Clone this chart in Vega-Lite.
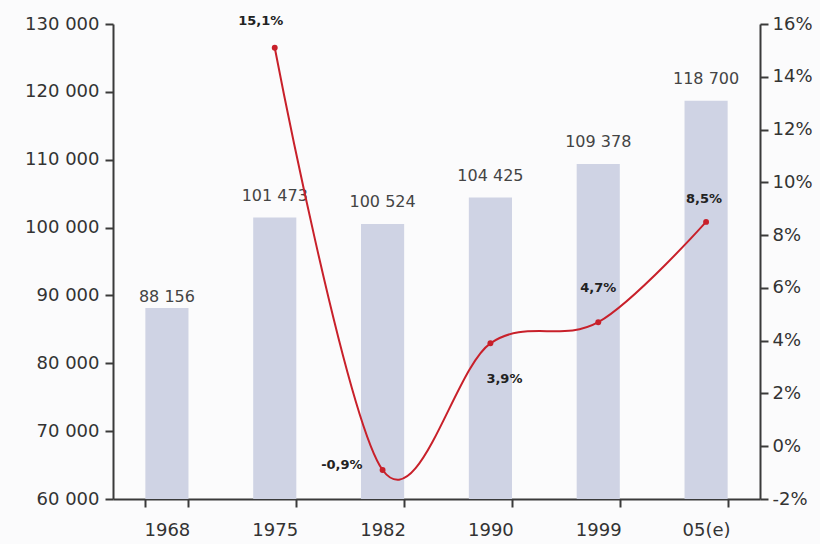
{
  "$schema": "https://vega.github.io/schema/vega-lite/v6.json",
  "autosize": "none",
  "width": 647,
  "height": 475,
  "padding": {"left": 113, "top": 24, "right": 60, "bottom": 45},
  "background": "#fbfbfc",
  "config": {
    "view": {"stroke": null},
    "locale": {"number": {"decimal": ",", "thousands": " ", "grouping": [3], "currency": ["", " €"], "minus": "-"}},
    "axis": {"grid": false, "labelFont": "DejaVu Sans", "labelFontSize": 18, "labelColor": "#333", "domainColor": "#3a3a3a", "domainWidth": 2, "tickColor": "#3a3a3a", "tickWidth": 2, "tickSize": 8}
  },
  "data": {"values": [
    {"year": "1968", "pop": 88156, "growth": null},
    {"year": "1975", "pop": 101473, "growth": 0.151},
    {"year": "1982", "pop": 100524, "growth": -0.009},
    {"year": "1990", "pop": 104425, "growth": 0.039},
    {"year": "1999", "pop": 109378, "growth": 0.047},
    {"year": "05(e)", "pop": 118700, "growth": 0.085}
  ]},
  "encoding": {
    "x": {"field": "year", "type": "ordinal", "sort": null,
      "scale": {"paddingInner": 0.6, "paddingOuter": 0.3},
      "axis": {"title": null, "labelAngle": 0, "tickBand": "extent", "labelPadding": 14}}
  },
  "layer": [
    {
      "encoding": {
        "y": {"field": "pop", "type": "quantitative",
          "scale": {"domain": [60000, 130000], "zero": false, "nice": false},
          "axis": {"title": null, "values": [60000, 70000, 80000, 90000, 100000, 110000, 120000, 130000], "format": ",d", "labelPadding": 6}}
      },
      "layer": [
        {"mark": {"type": "bar", "color": "#cfd3e4"}, "encoding": {"y2": {"datum": 60000}}},
        {"transform": [{"filter": "datum.year != '1968'"}],
         "mark": {"type": "text", "baseline": "bottom", "dy": -14, "font": "DejaVu Sans", "fontSize": 16, "color": "#444"},
         "encoding": {"text": {"field": "pop", "type": "quantitative", "format": ",d"}}},
        {"transform": [{"filter": "datum.year == '1968'"}],
         "mark": {"type": "text", "baseline": "bottom", "dy": -3, "font": "DejaVu Sans", "fontSize": 16, "color": "#444"},
         "encoding": {"text": {"field": "pop", "type": "quantitative", "format": ",d"}}}
      ]
    },
    {
      "transform": [{"filter": "datum.growth != null"}],
      "encoding": {
        "y": {"field": "growth", "type": "quantitative",
          "scale": {"domain": [-0.02, 0.16], "zero": false, "nice": false},
          "axis": {"title": null, "orient": "right", "values": [-0.02, 0, 0.02, 0.04, 0.06, 0.08, 0.10, 0.12, 0.14, 0.16], "format": ".0%", "labelPadding": 4}}
      },
      "layer": [
        {"mark": {"type": "line", "interpolate": "cardinal", "color": "#c8202a", "strokeWidth": 2}},
        {"mark": {"type": "point", "filled": true, "color": "#c8202a", "size": 35, "opacity": 1}},
        {"transform": [{"filter": "datum.year == '1975'"}],
         "mark": {"type": "text", "baseline": "bottom", "dx": -14, "dy": -20, "font": "DejaVu Sans", "fontWeight": "bold", "fontSize": 13, "color": "#222"},
         "encoding": {"text": {"field": "growth", "type": "quantitative", "format": ".1%"}}},
        {"transform": [{"filter": "datum.year == '1999'"}],
         "mark": {"type": "text", "baseline": "bottom", "dy": -27, "font": "DejaVu Sans", "fontWeight": "bold", "fontSize": 13, "color": "#222"},
         "encoding": {"text": {"field": "growth", "type": "quantitative", "format": ".1%"}}},
        {"transform": [{"filter": "datum.year == '05(e)'"}],
         "mark": {"type": "text", "baseline": "bottom", "dx": -2, "dy": -16, "font": "DejaVu Sans", "fontWeight": "bold", "fontSize": 13, "color": "#222"},
         "encoding": {"text": {"field": "growth", "type": "quantitative", "format": ".1%"}}},
        {"transform": [{"filter": "datum.year == '1982'"}],
         "mark": {"type": "text", "align": "right", "baseline": "middle", "dx": -20, "dy": -5, "font": "DejaVu Sans", "fontWeight": "bold", "fontSize": 13, "color": "#222"},
         "encoding": {"text": {"field": "growth", "type": "quantitative", "format": ".1%"}}},
        {"transform": [{"filter": "datum.year == '1990'"}],
         "mark": {"type": "text", "align": "center", "baseline": "middle", "dx": 14, "dy": 36, "font": "DejaVu Sans", "fontWeight": "bold", "fontSize": 13, "color": "#222"},
         "encoding": {"text": {"field": "growth", "type": "quantitative", "format": ".1%"}}}
      ]
    }
  ],
  "resolve": {"scale": {"y": "independent"}}
}
